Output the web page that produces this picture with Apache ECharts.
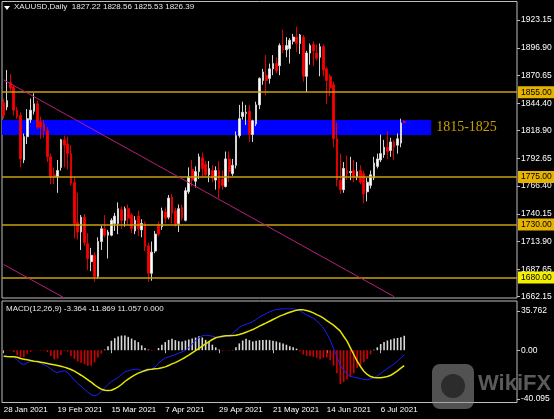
<!DOCTYPE html>
<html><head><meta charset="utf-8">
<script src="https://cdn.jsdelivr.net/npm/echarts@6/dist/echarts.min.js"></script>
<style>html,body{margin:0;padding:0;background:#000;}#c{width:554px;height:419px;}</style>
</head><body><div id="c"></div>
<script>
// ---------- DATA ----------
// Daily XAUUSD bars: [open, high, low, close]
const ohlc = [
[1845,1849,1830,1833],[1841,1876,1838,1847],[1864,1872,1856,1859],[1860,1862,1833,1838],[1838,1841,1830,1832],
[1833,1836,1784,1792],[1791,1816,1788,1813],[1813,1839,1806,1830],[1829,1849,1826,1838],[1837,1854,1834,1844],
[1844,1847,1820,1822],[1827,1832,1811,1822],[1825,1829,1812,1818],[1819,1822,1789,1794],[1794,1797,1768,1775],
[1777,1784,1768,1775],[1775,1791,1760,1781],[1784,1811,1781,1810],[1810,1814,1784,1805],[1806,1813,1782,1797],
[1797,1805,1767,1769],[1770,1775,1717,1731],[1732,1760,1716,1723],[1723,1739,1706,1737],[1737,1740,1710,1713],
[1712,1722,1687,1698],[1695,1708,1686,1701],[1701,1704,1676,1681],[1681,1718,1679,1714],[1714,1729,1706,1726],
[1726,1739,1718,1720],[1720,1725,1698,1723],[1720,1736,1719,1734],[1731,1741,1724,1738],[1731,1751,1721,1745],
[1744,1747,1726,1734],[1734,1747,1728,1745],[1745,1749,1730,1736],[1739,1741,1722,1726],[1724,1738,1721,1734],
[1738,1743,1719,1726],[1725,1735,1718,1731],[1731,1733,1705,1709],[1710,1713,1676,1684],[1684,1714,1677,1704],
[1705,1724,1703,1721],[1730,1733,1719,1721],[1728,1746,1725,1743],[1742,1746,1731,1736],[1737,1758,1735,1755],
[1756,1759,1731,1741],[1743,1746,1728,1730],[1731,1749,1723,1745],[1746,1749,1734,1736],[1734,1765,1733,1762],
[1761,1784,1759,1775],[1782,1791,1766,1772],[1771,1785,1765,1780],[1780,1797,1773,1794],[1793,1798,1775,1783],
[1787,1790,1775,1777],[1777,1790,1770,1783],[1781,1786,1770,1774],[1772,1785,1763,1781],[1781,1790,1755,1764],
[1773,1781,1763,1767],[1766,1799,1765,1792],[1792,1799,1770,1780],[1778,1792,1776,1786],[1786,1818,1783,1814],
[1814,1843,1812,1830],[1832,1846,1829,1836],[1835,1843,1824,1836],[1837,1843,1808,1815],[1815,1829,1808,1828],
[1825,1846,1823,1843],[1843,1869,1839,1868],[1866,1877,1862,1874],[1871,1890,1852,1866],[1868,1882,1863,1877],
[1877,1890,1871,1882],[1882,1888,1873,1875],[1880,1901,1871,1899],[1899,1914,1892,1895],[1895,1907,1888,1899],
[1896,1906,1882,1904],[1903,1910,1900,1907],[1907,1917,1893,1901],[1901,1910,1891,1909],[1907,1909,1865,1870],
[1870,1894,1855,1892],[1892,1901,1881,1899],[1900,1903,1880,1894],[1892,1900,1885,1887],[1888,1901,1870,1898],
[1898,1900,1870,1876],[1877,1879,1844,1866],[1870,1872,1851,1859],[1862,1865,1803,1811],[1811,1826,1766,1772],
[1772,1797,1759,1763],[1763,1789,1760,1783],[1781,1795,1772,1778],[1779,1794,1772,1780],[1781,1791,1770,1775],
[1775,1789,1772,1780],[1781,1786,1768,1770],[1778,1781,1750,1759],[1761,1774,1752,1770],[1767,1781,1764,1777],
[1774,1794,1772,1788],[1785,1797,1783,1792],[1791,1815,1789,1797],[1796,1810,1793,1803],[1803,1818,1792,1799],
[1800,1812,1794,1808],[1808,1810,1791,1803],[1805,1816,1797,1811],[1807,1830,1803,1826],[1827.22,1828.56,1825.53,1826.39]
];
// MACD(12,26,9) panel
const macdLine = [
-4.6,-4.7,-4.9,-5.1,-7.4,-10.0,-11.0,-9.7,-8.4,-8.4,
-8.9,-10.0,-11.2,-12.5,-14.3,-16.3,-17.1,-16.3,-15.8,-17.1,
-19.9,-23.0,-25.5,-27.6,-29.9,-32.2,-34.0,-35.0,-34.0,-31.7,
-28.9,-26.3,-24.0,-22.5,-20.9,-18.6,-16.6,-15.8,-15.1,-14.6,
-14.6,-15.8,-16.3,-15.3,-14.3,-13.0,-10.0,-7.7,-6.1,-5.1,
-4.3,-3.3,-2.3,-1.3,0.0,2.0,4.6,7.4,9.5,11.0,
11.5,11.2,10.7,10.0,9.5,10.0,10.7,11.5,12.5,15.3,
17.4,18.9,19.9,20.7,22.0,23.5,25.5,26.8,28.1,29.4,
30.4,31.2,31.4,31.7,31.7,31.7,31.7,31.2,30.1,28.6,
26.8,25.8,24.5,22.5,19.9,16.9,12.8,7.7,1.3,-5.1,
-11.5,-15.3,-18.4,-19.9,-20.7,-21.2,-21.7,-22.5,-22.7,-22.0,
-20.9,-19.7,-17.9,-15.8,-14.0,-12.3,-10.5,-8.4,-6.1,-3.364];
const signalLine = [
-4.6,-4.9,-5.1,-5.1,-5.4,-6.4,-6.9,-7.4,-7.9,-8.4,
-8.7,-9.2,-9.7,-10.2,-10.7,-11.2,-11.7,-12.3,-13.0,-13.8,
-14.8,-16.1,-17.6,-19.2,-20.9,-22.7,-24.5,-26.6,-28.4,-29.9,
-30.7,-30.9,-30.7,-29.6,-28.1,-26.3,-24.0,-22.2,-20.4,-18.9,
-17.6,-16.6,-15.6,-14.8,-14.6,-14.3,-14.0,-13.5,-12.8,-11.7,
-10.5,-9.5,-8.2,-6.9,-5.4,-3.8,-2.0,-0.3,1.3,3.1,
4.9,6.6,8.2,9.5,10.2,10.7,11.0,11.0,11.2,11.5,
12.0,12.8,13.8,14.8,15.8,17.1,18.4,19.7,20.9,22.2,
23.5,24.8,26.1,27.1,28.1,29.1,29.9,30.7,30.9,30.9,
30.4,29.6,28.6,27.3,26.1,24.5,22.7,20.9,19.2,16.9,
14.6,10.7,6.9,1.8,-3.3,-8.4,-12.5,-16.1,-18.6,-20.2,
-20.9,-21.2,-21.2,-20.7,-20.2,-19.2,-17.6,-15.8,-13.8,-11.869];
const histogram = [
-0.3,-0.3,-0.3,-1.5,-3.7,-5.7,-5.2,-2.7,-1.2,-0.3,
-0.2,-0.3,-0.5,-1.5,-4.5,-7.0,-6.5,-3.7,-0.5,-1.0,
-4.5,-6.7,-8.7,-9.7,-10.7,-11.9,-11.9,-9.4,-5.7,-2.7,
0.5,3.0,7.2,9.2,10.4,11.2,11.2,10.2,8.9,7.7,
6.2,3.7,1.7,0.5,-0.5,-0.3,1.7,4.2,6.2,7.9,
8.7,7.7,6.9,6.7,7.4,8.2,8.9,9.7,10.7,9.7,
7.9,6.7,4.2,2.2,0.5,-0.4,-0.2,-0.4,0.2,2.2,
5.2,7.4,8.7,7.7,6.7,7.2,7.7,7.9,7.9,7.7,
7.2,6.7,5.9,5.2,4.2,3.0,2.2,1.2,-1.0,-3.2,
-4.5,-4.7,-5.2,-5.9,-6.9,-5.7,-5.7,-7.7,-11.9,-17.6,
-26.0,-24.3,-22.3,-20.6,-17.6,-13.6,-11.6,-9.2,-6.7,-3.2,
0.3,2.2,4.7,6.2,7.4,8.2,8.9,9.4,10.0,11.057];
// price scale tick labels
const priceTicks = [1923.15,1896.90,1870.65,1844.40,1818.90,1792.65,1766.40,1740.15,1713.90,1687.65,1662.15];
const macdTickLabels = ['35.762','0.00','-40.095'];
// horizontal support/resistance levels
const levels = [1855, 1775, 1730, 1680];
const levelLabelBg = ['#e6b400','#e6b400','#e6b400','#f5f000'];
// zone (blue band) and its label
const zone = [1814.6, 1828.7];
const zoneLabel = '1815-1825';
const zoneEndBar = 127;
const lastPrice = 1826.39;
// trend lines: [barIndex, price] pairs
const trendLines = [[[0,1866.6],[116,1662.0]], [[0,1692.3],[18,1660.8]]];
const titleText = 'XAUUSD,Daily  1827.22 1828.56 1825.53 1826.39';
const macdTitle = 'MACD(12,26,9) -3.364 -11.869 11.057 0.000';
const firstDay = [2021, 0, 28];
const closedDays = ['2021-04-02'];
const MONTHS = ['Jan','Feb','Mar','Apr','May','Jun','Jul','Aug','Sep','Oct','Nov','Dec'];

// ---------- build categories (trading days) ----------
const dates = [];
for (let t = Date.UTC(firstDay[0], firstDay[1], firstDay[2]); dates.length < ohlc.length; t += 86400000) {
  const d = new Date(t); const wd = d.getUTCDay();
  const iso = d.toISOString().slice(0, 10);
  if (wd === 0 || wd === 6 || closedDays.indexOf(iso) >= 0) continue;
  dates.push(d.getUTCDate() + ' ' + MONTHS[d.getUTCMonth()] + ' ' + d.getUTCFullYear());
}
const N = 153; // bars that fit the window (including the empty shift area)
const cats = dates.concat(Array.from({length: N - dates.length}, (_, k) => 'f' + k));
const showDate = (i) => i % 16 === 0 && i < dates.length;

const FONT = "'Liberation Sans', Arial, sans-serif";
const chart = echarts.init(document.getElementById('c'), null, {renderer: 'canvas'});

const levelLines = levels.map((v, k) => ({
  yAxis: v,
  lineStyle: {color: '#c9a10a', width: 1.5, type: 'solid'},
  label: {show: true, position: 'end', distance: 1, formatter: v.toFixed(2), color: '#000',
          backgroundColor: levelLabelBg[k], padding: [2, 3, 1, 3], fontSize: 8.5, fontFamily: FONT}
}));
const trendItems = trendLines.map(tl => [
  {coord: tl[0], lineStyle: {color: '#b8207e', width: 1, type: 'solid'}, label: {show: false}},
  {coord: tl[1]}
]);
const lastItem = {
  yAxis: lastPrice, lineStyle: {opacity: 0},
  label: {show: true, position: 'end', distance: 1, formatter: lastPrice.toFixed(2), color: '#000',
          backgroundColor: '#ffffff', padding: [2, 3, 1, 3], fontSize: 8.5, fontFamily: FONT}
};

chart.setOption({
  backgroundColor: '#000',
  animation: false,
  grid: [
    {left: 2, top: 1.5, width: 515, height: 296.5, show: true, borderColor: '#bdbdbd', borderWidth: 1, outerBoundsMode: 'none', containLabel: false},
    {left: 2, top: 301, width: 515, height: 101.5, show: true, borderColor: '#bdbdbd', borderWidth: 1, outerBoundsMode: 'none', containLabel: false}
  ],
  xAxis: [
    {type: 'category', gridIndex: 0, data: cats, axisLine: {show: false}, axisTick: {show: false}, axisLabel: {show: false}, splitLine: {show: false}},
    {type: 'category', gridIndex: 1, data: cats, axisLine: {show: false},
     axisTick: {show: true, alignWithLabel: true, interval: (i) => showDate(i), length: 3, lineStyle: {color: '#bdbdbd'}},
     axisLabel: {show: true, interval: (i) => showDate(i), align: 'left', color: '#ffffff', fontSize: 8, fontFamily: FONT, margin: 3, hideOverlap: false},
     splitLine: {show: false}}
  ],
  yAxis: [
    {type: 'value', gridIndex: 0, position: 'right', min: 1660.7, max: 1940.6,
     splitLine: {show: false}, axisLine: {show: false},
     axisTick: {show: true, customValues: priceTicks, length: 3, lineStyle: {color: '#bdbdbd'}},
     axisLabel: {show: true, customValues: priceTicks, formatter: (v) => v.toFixed(2), color: '#ffffff', fontSize: 8.5, fontFamily: FONT, margin: 4, hideOverlap: false}},
    {type: 'value', gridIndex: 1, position: 'right', min: -40.095, max: 37.7,
     splitLine: {show: false}, axisLine: {show: false},
     axisTick: {show: true, customValues: [30.0, 0, -37.5], length: 3, lineStyle: {color: '#bdbdbd'}},
     axisLabel: {show: true, customValues: [30.0, 0, -37.5],
                 formatter: (v) => v > 1 ? macdTickLabels[0] : (v < -1 ? macdTickLabels[2] : macdTickLabels[1]),
                 color: '#ffffff', fontSize: 8.5, fontFamily: FONT, margin: 4, hideOverlap: false}}
  ],
  series: [
    {
      type: 'candlestick', xAxisIndex: 0, yAxisIndex: 0, barWidth: 2.2,
      data: ohlc.map(r => [r[0], r[3], r[2], r[1]]),
      itemStyle: {color: '#ffffff', color0: '#ff0000', borderColor: '#d4d4d4', borderColor0: '#e00000', borderWidth: 1},
      markArea: {
        silent: true,
        itemStyle: {color: '#0000ff', opacity: 1},
        label: {show: true, position: 'right', distance: 5, formatter: zoneLabel, color: '#c8a000',
                fontFamily: "'Liberation Serif', 'Times New Roman', serif", fontSize: 14},
        data: [[{yAxis: zone[1]}, {xAxis: zoneEndBar, yAxis: zone[0]}]]
      },
      markLine: {
        silent: true, symbol: ['none', 'none'], precision: 2,
        data: levelLines.concat(trendItems).concat([lastItem])
      }
    },
    {
      type: 'bar', xAxisIndex: 1, yAxisIndex: 1, barWidth: 1.6,
      data: histogram.map(v => ({value: v, itemStyle: {color: v >= 0 ? '#d8d8d8' : '#d40000'}}))
    },
    {type: 'line', xAxisIndex: 1, yAxisIndex: 1, data: macdLine, symbol: 'none', lineStyle: {color: '#1e1eff', width: 1}},
    {type: 'line', xAxisIndex: 1, yAxisIndex: 1, data: signalLine, symbol: 'none', lineStyle: {color: '#e6e600', width: 1.5}}
  ],
  graphic: [
    {type: 'polygon', shape: {points: [[4, 6], [10, 6], [7, 10]]}, style: {fill: '#ffffff'}},
    {type: 'text', left: 14, top: 3, style: {text: titleText, fill: '#e8e8e8', font: '8px ' + FONT}},
    {type: 'text', left: 6, top: 305, style: {text: macdTitle, fill: '#e8e8e8', font: '8px ' + FONT}},
    {type: 'rect', shape: {x: 432, y: 364, width: 42, height: 45, r: 8}, style: {fill: 'rgba(150,150,150,0.55)'}, z: 100},
    {type: 'circle', shape: {cx: 453, cy: 386, r: 12}, style: {fill: 'rgba(20,20,20,0.6)'}, z: 101},
    {type: 'text', left: 478, top: 373, style: {text: 'WikiFX', fill: 'rgba(150,150,150,0.6)', font: 'bold 22px ' + FONT}, z: 100}
  ]
});
</script>
</body></html>
